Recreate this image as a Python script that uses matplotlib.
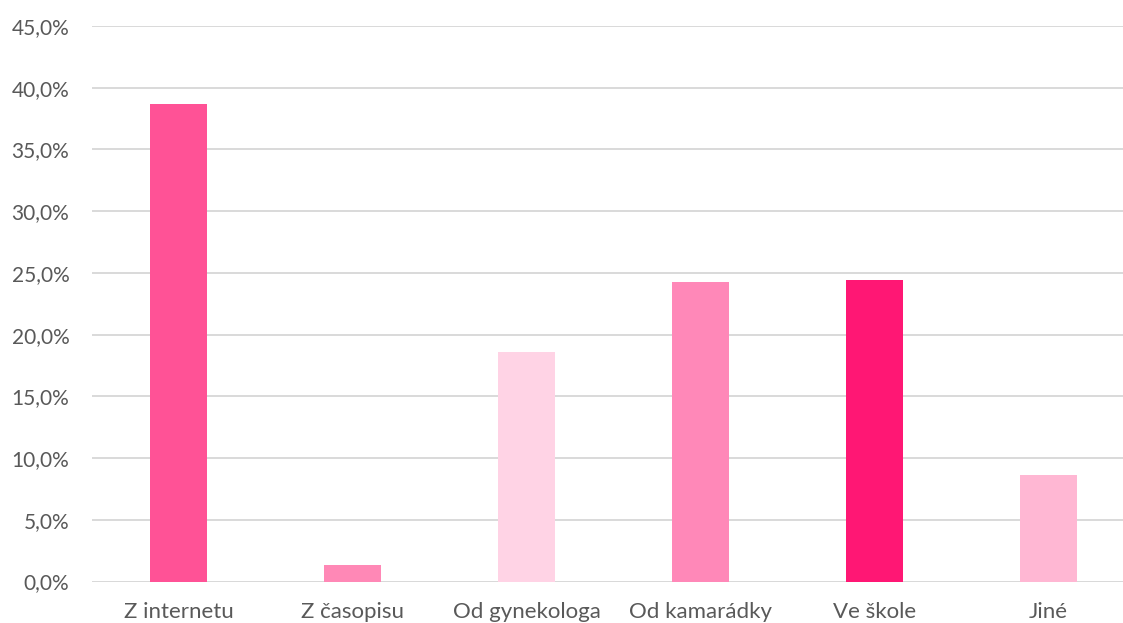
import matplotlib
matplotlib.use("Agg")
import matplotlib.pyplot as plt
from matplotlib.ticker import FuncFormatter, MultipleLocator

categories = ["Z internetu", "Z časopisu", "Od gynekologa", "Od kamarádky", "Ve škole", "Jiné"]
values = [38.7, 1.3, 18.6, 24.3, 24.4, 8.65]
colors = ["#FF5296", "#FF88B6", "#FFD3E5", "#FF88B8", "#FF1774", "#FFB7D3"]

W, H = 1123, 623
fig = plt.figure(figsize=(W / 100, H / 100), dpi=100)
plt.rcParams["font.family"] = ["Lato", "DejaVu Sans"]

left, right = 91.5, 1135.5
bottom, top = 623 - 581.5, 623 - 26
ax = fig.add_axes([left / W, bottom / H, (right - left) / W, (top - bottom) / H])

x = list(range(len(categories)))
ax.bar(x, values, width=0.33, color=colors, zorder=3)

ax.set_xlim(-0.5, len(categories) - 0.5)
ax.set_ylim(0, 45)
ax.yaxis.set_major_locator(MultipleLocator(5))
ax.yaxis.set_major_formatter(FuncFormatter(lambda v, p: f"{v:.1f}%".replace(".", ",")))
ax.grid(axis="y", color="#D9D9D9", linewidth=1.4, zorder=0)
ax.set_xticks(x)
ax.set_xticklabels(categories)

for s in ax.spines.values():
    s.set_visible(False)
ax.tick_params(axis="both", length=0, colors="#595959")
ax.tick_params(axis="y", pad=16, labelsize=15)
ax.tick_params(axis="x", pad=15, labelsize=16)
ax.axhline(0, color="#D9D9D9", linewidth=1.4, zorder=1)

fig.savefig("out.png", dpi=100, facecolor="white")
